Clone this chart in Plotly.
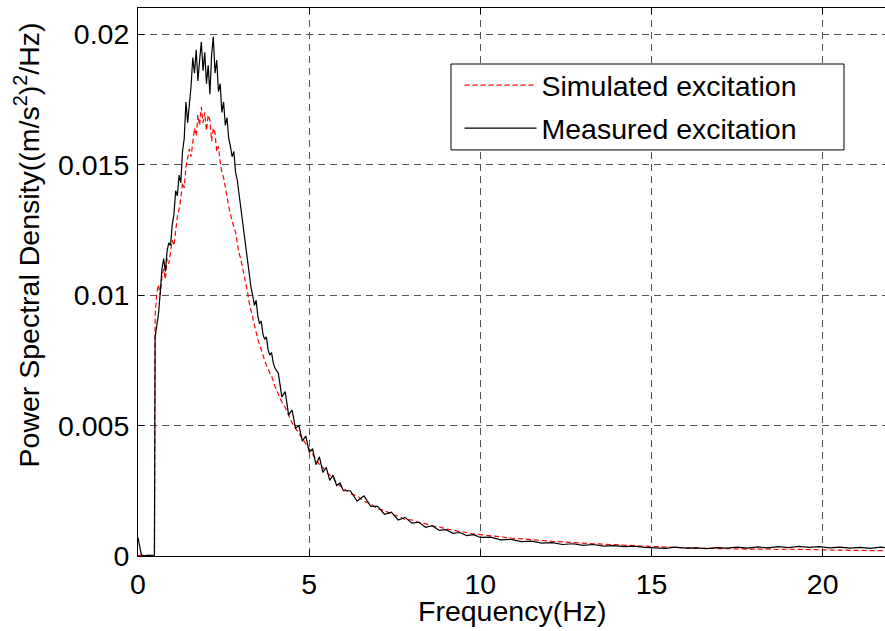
import plotly.graph_objects as go

# Frequency grid (Hz): below the 0.5 Hz cut-off, dense through the peak, coarser in the tail
freq_low = [0.0, 0.05, 0.1, 0.2, 0.3, 0.4, 0.48]
freq_peak = [0.50, 0.55, 0.60, 0.65, 0.70, 0.75, 0.80, 0.85, 0.90, 0.95,
             1.00, 1.05, 1.10, 1.15, 1.20, 1.25, 1.30, 1.35, 1.40, 1.45,
             1.50, 1.55, 1.60, 1.65, 1.70, 1.75, 1.80, 1.85, 1.90, 1.95,
             2.00, 2.05, 2.10, 2.15, 2.20, 2.25, 2.30, 2.35, 2.40, 2.45,
             2.50, 2.55, 2.60, 2.65, 2.70, 2.75, 2.80, 2.85, 2.90, 2.95,
             3.00, 3.05, 3.10, 3.15, 3.20, 3.25, 3.30, 3.35, 3.40, 3.45,
             3.50, 3.55, 3.60, 3.65, 3.70, 3.75, 3.80, 3.85, 3.90, 3.95, 4.00]
freq_mid = [4.1, 4.2, 4.3, 4.4, 4.5, 4.6, 4.7, 4.8, 4.9, 5.0,
            5.1, 5.2, 5.3, 5.4, 5.5, 5.6, 5.7, 5.8, 5.9, 6.0]
freq_decay = [6.2, 6.4, 6.6, 6.8, 7.0, 7.2, 7.4, 7.6, 7.8, 8.0,
              8.2, 8.4, 8.6, 8.8, 9.0, 9.2, 9.4, 9.6, 9.8, 10.0]
freq_tail = [10.3, 10.6, 10.9, 11.2, 11.5, 11.8, 12.1, 12.4, 12.7, 13.0,
             13.3, 13.6, 13.9, 14.2, 14.5, 14.8, 15.1, 15.4, 15.7, 16.0,
             16.3, 16.6, 16.9, 17.2, 17.5, 17.8, 18.1, 18.4, 18.7, 19.0,
             19.3, 19.6, 19.9, 20.2, 20.5, 20.8, 21.1, 21.4, 21.7, 21.9]

# Measured excitation PSD, (m/s^2)^2/Hz
measured_low = [0.00070, 0.00030, 0.00003, 0.00002, 0.00002, 0.00002, 0.00003]
measured_peak = [0.0084, 0.0089, 0.0093, 0.0101, 0.0110, 0.0114, 0.0109, 0.0117, 0.0120, 0.0119,
                 0.0127, 0.0131, 0.0140, 0.0138, 0.0146, 0.0143, 0.0155, 0.0160, 0.0174, 0.0166,
                 0.0172, 0.0180, 0.0191, 0.0185, 0.0194, 0.0182, 0.0190, 0.0197, 0.0186, 0.0193,
                 0.0181, 0.0188, 0.0177, 0.0192, 0.0199, 0.0185, 0.0190, 0.0178, 0.0181, 0.0170,
                 0.0174, 0.0165, 0.0168, 0.0160, 0.0157, 0.0153, 0.0155, 0.0147, 0.0144, 0.0139,
                 0.0133, 0.0128, 0.0122, 0.0117, 0.0112, 0.0109, 0.0103, 0.0100, 0.0096, 0.0098,
                 0.0092, 0.0089, 0.0090, 0.0085, 0.0083, 0.0084, 0.0079, 0.0077, 0.0078, 0.0074, 0.0072]
measured_mid = [0.0070, 0.0061, 0.0063, 0.0054, 0.0056, 0.0049, 0.0050, 0.0044, 0.0046, 0.0040,
                0.0041, 0.0035, 0.0038, 0.0032, 0.0034, 0.0029, 0.0031, 0.0027, 0.0028, 0.0025]
measured_decay = [0.0025, 0.0021, 0.0023, 0.0019, 0.0019, 0.0016, 0.00168, 0.00138, 0.00148, 0.00126,
                  0.00130, 0.00110, 0.00116, 0.00098, 0.00101, 0.00087, 0.00090, 0.00078, 0.00082, 0.00071]
measured_tail = [0.00072, 0.00062, 0.00064, 0.00055, 0.00057, 0.00049, 0.00051, 0.00044, 0.00047, 0.00041,
                 0.00044, 0.00038, 0.00040, 0.00036, 0.00038, 0.00033, 0.00031, 0.00029, 0.00034, 0.00030,
                 0.00031, 0.00028, 0.00032, 0.00030, 0.00034, 0.00030, 0.00035, 0.00031, 0.00036, 0.00032,
                 0.00037, 0.00033, 0.00036, 0.00031, 0.00034, 0.00030, 0.00033, 0.00029, 0.00034, 0.00031]

# Simulated excitation PSD, (m/s^2)^2/Hz
simulated_low = [0.00002, 0.00002, 0.00002, 0.00002, 0.00002, 0.00002, 0.00003]
simulated_peak = [0.0092, 0.0101, 0.0104, 0.0100, 0.0107, 0.0110, 0.0106, 0.0114, 0.0112, 0.0117,
                  0.0121, 0.0119, 0.0126, 0.0130, 0.0133, 0.0137, 0.0143, 0.0141, 0.0149, 0.0152,
                  0.0156, 0.0153, 0.0160, 0.0164, 0.0161, 0.0169, 0.0165, 0.0172, 0.0166, 0.0170,
                  0.0163, 0.0169, 0.0167, 0.0159, 0.0164, 0.0162, 0.0155, 0.0157, 0.0151, 0.0147,
                  0.0145, 0.0141, 0.0138, 0.0134, 0.0131, 0.0128, 0.0126, 0.0124, 0.0120, 0.0116,
                  0.0114, 0.0111, 0.0108, 0.0105, 0.0101, 0.0097, 0.0094, 0.0091, 0.0088, 0.0086,
                  0.0083, 0.0081, 0.0079, 0.0077, 0.0075, 0.0073, 0.0072, 0.0070, 0.0069, 0.0067, 0.0065]
simulated_mid = [0.0062, 0.0059, 0.0057, 0.0054, 0.0051, 0.0049, 0.0047, 0.0045, 0.0043, 0.0041,
                 0.0039, 0.0037, 0.0035, 0.0034, 0.0032, 0.0031, 0.0030, 0.0028, 0.0027, 0.0026]
simulated_decay = [0.0024, 0.0023, 0.0021, 0.0020, 0.0018, 0.00175, 0.0016, 0.00153, 0.0014, 0.00138,
                   0.00128, 0.00124, 0.00115, 0.00112, 0.00103, 0.00100, 0.00093, 0.00090, 0.00084, 0.00082]
simulated_tail = [0.00077, 0.00073, 0.00069, 0.00066, 0.00062, 0.00059, 0.00056, 0.00054, 0.00051, 0.00049,
                  0.00047, 0.00045, 0.00043, 0.00041, 0.00039, 0.00037, 0.00035, 0.00033, 0.00032, 0.00031,
                  0.00030, 0.00029, 0.00028, 0.00028, 0.00027, 0.00027, 0.00026, 0.00027, 0.00025, 0.00026,
                  0.00026, 0.00025, 0.00024, 0.00023, 0.00022, 0.00022, 0.00021, 0.00021, 0.00020, 0.00020]

x_ticks = [0, 5, 10, 15, 20]
y_ticks = [0, 0.005, 0.01, 0.015, 0.02]
y_tick_text = ["0", "0.005", "0.01", "0.015", "0.02"]

freq = freq_low + freq_peak + freq_mid + freq_decay + freq_tail
measured = measured_low + measured_peak + measured_mid + measured_decay + measured_tail
simulated = simulated_low + simulated_peak + simulated_mid + simulated_decay + simulated_tail

FONT = "Liberation Sans, Arial, sans-serif"
FS = 28.5

fig = go.Figure()
fig.add_trace(go.Scatter(
    x=freq, y=simulated, mode="lines", name="Simulated excitation",
    legendgroup="sim",
    line=dict(color="#ff0000", width=1.2, dash="5px,3px"),
))
fig.add_trace(go.Scatter(
    x=freq, y=measured, mode="lines", name="Measured excitation",
    legendgroup="meas",
    line=dict(color="#000000", width=1.2),
))

grid_style = dict(showgrid=True, gridcolor="#555555", gridwidth=1, griddash="7px,5px")

fig.update_layout(
    width=885, height=631,
    margin=dict(l=138, r=0, t=8, b=75),
    paper_bgcolor="white", plot_bgcolor="white",
    font=dict(family=FONT, size=FS, color="black"),
    showlegend=True,
    legend=dict(
        x=0.4304, y=0.905, xanchor="left", yanchor="top",
        bgcolor="rgba(0,0,0,0)", borderwidth=0,
        font=dict(family=FONT, size=FS, color="black"),
        itemwidth=72, tracegroupgap=3,
    ),
    xaxis=dict(
        range=[0, 21.82], tickvals=x_ticks, ticktext=[str(v) for v in x_ticks],
        showline=True, linecolor="black", linewidth=1, mirror="allticks",
        ticks="inside", ticklen=6, tickcolor="black",
        zeroline=False, ticklabelstandoff=3, **grid_style,
    ),
    yaxis=dict(
        range=[0, 0.021], tickvals=y_ticks, ticktext=y_tick_text,
        showline=True, linecolor="black", linewidth=1, mirror=False,
        ticks="inside", ticklen=6, tickcolor="black",
        zeroline=False, ticklabelstandoff=2, **grid_style,
    ),
    # legend frame
    shapes=[dict(
        type="rect", xref="paper", yref="paper",
        x0=0.419, x1=0.9451, y0=0.741, y1=0.8978,
        line=dict(color="black", width=1), fillcolor="white", layer="above",
    )],
)

fig.add_annotation(
    text="Frequency(Hz)",
    xref="paper", yref="paper", x=0.5, y=-0.1004,
    xanchor="center", yanchor="middle", showarrow=False,
    font=dict(family=FONT, size=FS, color="black"),
)
fig.add_annotation(
    text="Power Spectral Density((m/s<sup>2</sup>)<sup>2</sup>/Hz)",
    xref="paper", yref="paper", x=-0.148, y=0.5675,
    xanchor="center", yanchor="middle", textangle=-90, showarrow=False,
    font=dict(family=FONT, size=FS, color="black"),
)

fig.write_html("out.html")
